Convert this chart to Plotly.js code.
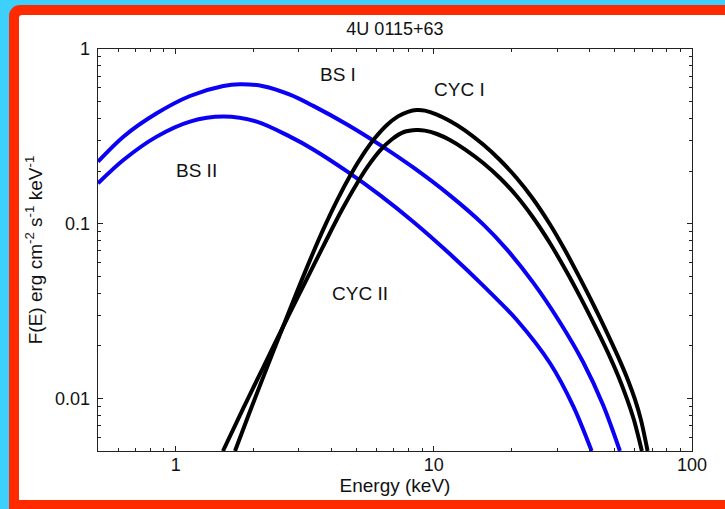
<!DOCTYPE html>
<html>
<head>
<meta charset="utf-8">
<script src="https://cdn.plot.ly/plotly-3.0.1.min.js"></script>
<style>
  html, body { margin: 0; padding: 0; width: 725px; height: 509px; overflow: hidden; background: #3dd0fc; }
  #frame { position: absolute; left: 9px; top: 5px; width: 740px; height: 504px; background: #ff2a00; border-top-left-radius: 11px; }
  #panel { position: absolute; left: 19px; top: 15px; width: 720px; height: 485px; background: #ffffff; border-top-left-radius: 3px; }
  #chart { position: absolute; left: 0; top: 0; width: 725px; height: 509px; }
</style>
</head>
<body>
<div id="frame"></div>
<div id="panel"></div>
<div id="chart"></div>
<script>
// Spectral components of 4U 0115+63: energy (keV) and flux F(E)
const bsIEnergy  = [0.5, 0.627, 0.844, 1.136, 1.529, 1.774, 2.184, 2.771, 3.41, 4.594, 6.182, 8.32, 11.54, 15.53, 19.13, 24.26, 30.78, 37.89, 45.29, 52.57];
const bsIFlux    = [0.2264, 0.3148, 0.4285, 0.5383, 0.614, 0.628, 0.6124, 0.5476, 0.4724, 0.3707, 0.2826, 0.2098, 0.1452, 0.0991, 0.0715, 0.046, 0.0273, 0.0161, 0.00913, 0.005];

const bsIIEnergy = [0.5, 0.627, 0.844, 1.136, 1.529, 2.059, 2.771, 3.41, 4.594, 6.182, 8.32, 11.54, 15.53, 20.92, 28.15, 34.66, 40.85];
const bsIIFlux   = [0.1703, 0.2315, 0.3151, 0.3841, 0.4102, 0.3841, 0.3151, 0.2662, 0.2, 0.1458, 0.1027, 0.0671, 0.0442, 0.0282, 0.01594, 0.00903, 0.005];

const cycIEnergy = [1.697, 1.94, 2.237, 2.557, 2.923, 3.313, 3.753, 4.251, 4.774, 5.313, 5.913, 6.58, 7.26, 7.937, 8.576, 9.236, 10.28, 11.54, 13.19, 15.53, 18.03, 20.92, 24.19, 28.15, 32.19, 36.79, 40.23, 43.98, 48.07, 52.57, 56.45, 60.08, 63.39, 67.29];
const cycIFlux   = [0.005, 0.00845, 0.01452, 0.02402, 0.03943, 0.0619, 0.0946, 0.1392, 0.1918, 0.2483, 0.309, 0.3672, 0.4114, 0.437, 0.4475, 0.444, 0.4216, 0.387, 0.3424, 0.2837, 0.2315, 0.1826, 0.139, 0.0993, 0.0707, 0.0488, 0.0377, 0.0289, 0.0219, 0.0164, 0.01276, 0.0099, 0.00756, 0.005];

const cycIIEnergy = [1.524, 1.822, 2.178, 2.603, 2.976, 3.372, 3.89, 4.406, 4.991, 5.556, 6.182, 6.882, 7.656, 8.576, 9.236, 10.28, 11.54, 13.19, 15.53, 18.03, 20.92, 24.19, 28.15, 32.68, 36.79, 40.23, 43.98, 48.07, 51.63, 55.8, 59.55, 63.96];
const cycIIFlux   = [0.005, 0.00872, 0.01497, 0.02563, 0.0382, 0.0553, 0.0842, 0.1201, 0.1661, 0.2134, 0.2621, 0.3045, 0.3349, 0.3438, 0.3411, 0.3262, 0.3013, 0.2666, 0.2226, 0.1826, 0.1441, 0.1089, 0.0775, 0.0531, 0.0384, 0.0297, 0.0228, 0.0173, 0.01357, 0.01008, 0.00755, 0.005];

// Component labels and where they sit (energy, flux)
const labelText   = ['BS I', 'CYC I', 'BS II', 'CYC II'];
const labelEnergy = [4.25, 12.6, 1.206, 5.17];
const labelFlux   = [0.71, 0.588, 0.2015, 0.0401];

// Axis ticks
const xTickVals = [1, 10, 100];
const xTickText = ['1', '10', '100'];
const yTickVals = [0.01, 0.1, 1];
const yTickText = ['0.01', '0.1', '1'];

const BLUE = '#0a00f5';
const BLACK = '#000000';
const FONT = 'Liberation Sans, Arial, Helvetica, sans-serif';

function minorTicks(lo, hi) {
  const out = [];
  for (let d = lo; d < hi; d++) {
    for (let m = 2; m <= 9; m++) out.push(m * Math.pow(10, d));
  }
  return out;
}

function curve(x, y, color) {
  return {
    x: x, y: y, type: 'scatter', mode: 'lines',
    line: { color: color, width: 4, shape: 'spline', smoothing: 0.9 },
    hoverinfo: 'skip', showlegend: false
  };
}

const traces = [
  curve(bsIEnergy, bsIFlux, BLUE),
  curve(bsIIEnergy, bsIIFlux, BLUE),
  curve(cycIEnergy, cycIFlux, BLACK),
  curve(cycIIEnergy, cycIIFlux, BLACK)
];

const axisCommon = {
  type: 'log',
  showgrid: false,
  zeroline: false,
  showline: true,
  linecolor: '#222',
  linewidth: 1.3,
  mirror: 'allticks',
  ticks: 'inside',
  ticklen: 5,
  tickwidth: 1,
  tickcolor: '#222',
  tickmode: 'array',
  automargin: false,
  tickfont: { family: FONT, size: 18, color: '#111' }
};

const layout = {
  width: 725,
  height: 509,
  margin: { l: 98, r: 33, t: 49, b: 58 },
  paper_bgcolor: 'rgba(0,0,0,0)',
  plot_bgcolor: '#ffffff',
  title: {
    text: '4U 0115+63',
    font: { family: FONT, size: 18, color: '#111' },
    x: 0.5, xref: 'paper',
    y: 1 - 29 / 509, yref: 'container', yanchor: 'middle'
  },
  xaxis: Object.assign({}, axisCommon, {
    range: [Math.log10(0.5), 2],
    tickvals: xTickVals,
    ticktext: xTickText,
    ticklabelstandoff: -3,
    minor: { tickmode: 'array', tickvals: minorTicks(-1, 2).filter(v => v > 0.5), ticks: 'inside', ticklen: 3, tickcolor: '#222', showgrid: false },
    title: { text: 'Energy (keV)', font: { family: FONT, size: 19, color: '#111' }, standoff: 0 }
  }),
  yaxis: Object.assign({}, axisCommon, {
    range: [Math.log10(0.005), 0],
    tickvals: yTickVals,
    ticktext: yTickText,
    ticklabelstandoff: 3,
    minor: { tickmode: 'array', tickvals: minorTicks(-3, 0).filter(v => v > 0.005), ticks: 'inside', ticklen: 3, tickcolor: '#222', showgrid: false },
    title: { text: 'F(E) erg cm<sup>-2</sup> s<sup>-1</sup> keV<sup>-1</sup>', font: { family: FONT, size: 19, color: '#111' }, standoff: 7 }
  }),
  annotations: labelText.map((t, i) => ({
    text: t,
    x: Math.log10(labelEnergy[i]),
    y: Math.log10(labelFlux[i]),
    xref: 'x', yref: 'y',
    showarrow: false,
    font: { family: FONT, size: 19, color: '#111' }
  }))
};

Plotly.newPlot('chart', traces, layout, { displayModeBar: false, staticPlot: true });
</script>
</body>
</html>
